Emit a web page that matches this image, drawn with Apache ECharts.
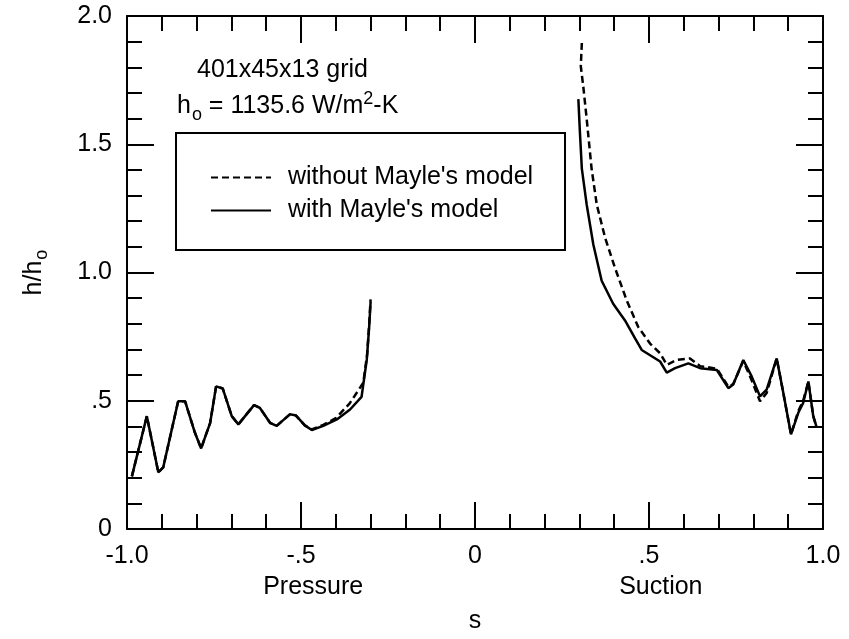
<!DOCTYPE html>
<html>
<head>
<meta charset="utf-8">
<script src="https://cdn.jsdelivr.net/npm/echarts@6/dist/echarts.min.js"></script>
<style>
html,body{margin:0;padding:0;background:#fff;}
#c{width:849px;height:639px;}
</style>
</head>
<body>
<div id="c"></div>
<script>
// ---- data ----
// pressure side, with Mayle's model (solid)
const pWithS = [-0.986, -0.943, -0.910, -0.896, -0.853, -0.833, -0.805, -0.787, -0.761, -0.744, -0.725, -0.699, -0.680, -0.635, -0.618, -0.589, -0.570, -0.532, -0.515, -0.489, -0.469, -0.436, -0.397, -0.359, -0.326, -0.311, -0.304, -0.300];
const pWithH = [0.205, 0.440, 0.221, 0.240, 0.498, 0.498, 0.376, 0.314, 0.414, 0.556, 0.548, 0.440, 0.408, 0.483, 0.472, 0.414, 0.402, 0.447, 0.443, 0.404, 0.386, 0.402, 0.427, 0.466, 0.515, 0.660, 0.790, 0.885];
// pressure side, without Mayle's model (dashed)
const pWithoutS = [-0.986, -0.943, -0.910, -0.896, -0.853, -0.833, -0.805, -0.787, -0.761, -0.744, -0.725, -0.699, -0.680, -0.635, -0.618, -0.589, -0.570, -0.532, -0.515, -0.489, -0.469, -0.436, -0.400, -0.360, -0.321, -0.310, -0.304, -0.300];
const pWithoutH = [0.205, 0.440, 0.221, 0.240, 0.498, 0.498, 0.376, 0.314, 0.414, 0.556, 0.548, 0.440, 0.408, 0.483, 0.472, 0.414, 0.402, 0.447, 0.443, 0.404, 0.388, 0.406, 0.432, 0.490, 0.570, 0.680, 0.800, 0.895];
// suction side, with Mayle's model (solid)
const sWithS = [0.297, 0.301, 0.307, 0.321, 0.340, 0.364, 0.397, 0.431, 0.460, 0.479, 0.532, 0.551, 0.575, 0.613, 0.647, 0.695, 0.728, 0.742, 0.771, 0.795, 0.819, 0.838, 0.867, 0.886, 0.908, 0.929, 0.943, 0.958, 0.972, 0.981];
const sWithH = [1.676, 1.560, 1.405, 1.264, 1.109, 0.968, 0.878, 0.813, 0.743, 0.698, 0.653, 0.610, 0.627, 0.646, 0.627, 0.620, 0.549, 0.563, 0.659, 0.595, 0.517, 0.543, 0.665, 0.530, 0.369, 0.453, 0.491, 0.575, 0.440, 0.400];
// suction side, without Mayle's model (dashed)
const sWithoutS = [0.307, 0.304, 0.311, 0.321, 0.335, 0.350, 0.374, 0.402, 0.436, 0.469, 0.503, 0.532, 0.551, 0.580, 0.618, 0.647, 0.695, 0.728, 0.742, 0.771, 0.795, 0.819, 0.838, 0.867, 0.886, 0.908, 0.929, 0.943, 0.958, 0.972, 0.981];
const sWithoutH = [1.895, 1.804, 1.727, 1.598, 1.405, 1.264, 1.135, 1.019, 0.891, 0.788, 0.723, 0.685, 0.640, 0.659, 0.665, 0.635, 0.625, 0.555, 0.565, 0.655, 0.580, 0.498, 0.530, 0.665, 0.530, 0.369, 0.460, 0.500, 0.575, 0.440, 0.400];

const xTickLabels = {'-1': '-1.0', '-0.5': '-.5', '0': '0', '0.5': '.5', '1': '1.0'};
const yTickLabels = {'0': '0', '0.5': '.5', '1': '1.0', '1.5': '1.5', '2': '2.0'};
const seriesNames = ["without Mayle's model", "with Mayle's model"];
const sideLabels = [{text: 'Pressure', s: -0.465}, {text: 'Suction', s: 0.534}];

// ---- build ----
function pairs(xs, ys) { return xs.map((x, i) => [x, ys[i]]); }
function joined(ax, ay, bx, by) { return pairs(ax, ay).concat([[0, null]], pairs(bx, by)); }

const FONT = 'Liberation Sans, Arial, Helvetica, sans-serif';
const FS = 25;
const black = '#000';

function axisCommon() {
  return {
    axisLine: {show: true, onZero: false, lineStyle: {color: black, width: 2}},
    axisTick: {show: true, inside: true, length: 27, lineStyle: {color: black, width: 2}},
    minorTick: {show: true, splitNumber: 5, length: 15, lineStyle: {color: black, width: 2}},
    splitLine: {show: false},
    minorSplitLine: {show: false}
  };
}

const chart = echarts.init(document.getElementById('c'));
chart.setOption({
  animation: false,
  backgroundColor: '#fff',
  textStyle: {fontFamily: FONT, color: black},
  grid: {left: 127, right: 26, top: 16, bottom: 105, containLabel: false},
  xAxis: [
    Object.assign({
      type: 'value', min: -1, max: 1, interval: 0.5, position: 'bottom',
      axisLabel: {show: true, margin: 15, fontSize: FS, color: black, fontFamily: FONT,
        formatter: v => xTickLabels[String(v)] ?? ''},
      name: 's', nameLocation: 'middle', nameGap: 80,
      nameTextStyle: {fontSize: FS, color: black, fontFamily: FONT}
    }, axisCommon()),
    Object.assign({
      type: 'value', min: -1, max: 1, interval: 0.5, position: 'top',
      axisLabel: {show: false}
    }, axisCommon())
  ],
  yAxis: [
    Object.assign({
      type: 'value', min: 0, max: 2, interval: 0.5, position: 'left',
      axisLabel: {show: true, margin: 15, fontSize: FS, color: black, fontFamily: FONT,
        formatter: v => yTickLabels[String(v)] ?? ''},
      name: '{m|h/h}{sub|o}', nameLocation: 'middle', nameGap: 80, nameRotate: 90,
      nameTextStyle: {fontSize: FS, color: black, fontFamily: FONT,
        rich: {
          m: {fontSize: FS, fontFamily: FONT, color: black, lineHeight: 25, verticalAlign: 'middle'},
          sub: {fontSize: 18, fontFamily: FONT, color: black, lineHeight: 18, padding: [16, 0, 0, 1], verticalAlign: 'middle'}
        }}
    }, axisCommon()),
    Object.assign({
      type: 'value', min: 0, max: 2, interval: 0.5, position: 'right',
      axisLabel: {show: false}
    }, axisCommon())
  ],
  legend: {
    show: true, orient: 'vertical', left: 205, top: 160,
    itemWidth: 60, itemHeight: 14, itemGap: 8,
    data: seriesNames,
    itemStyle: {opacity: 0},
    textStyle: {fontSize: FS, fontFamily: FONT, color: black, lineHeight: 25, padding: [0, 0, 0, 12]},
    selectedMode: false
  },
  series: [
    {
      name: seriesNames[0], type: 'line', showSymbol: false, symbol: 'none',
      data: joined(pWithoutS, pWithoutH, sWithoutS, sWithoutH),
      connectNulls: false,
      lineStyle: {color: black, width: 2.5, type: [7, 4]},
      itemStyle: {color: black}, z: 3
    },
    {
      name: seriesNames[1], type: 'line', showSymbol: false, symbol: 'none',
      data: joined(pWithS, pWithH, sWithS, sWithH),
      connectNulls: false,
      lineStyle: {color: black, width: 2.5, type: 'solid'},
      itemStyle: {color: black}, z: 4
    }
  ]
});

// annotations, legend box and side labels
const y0 = chart.convertToPixel({yAxisIndex: 0}, 0);
const graphics = [
  {type: 'rect', shape: {x: 176, y: 133, width: 389, height: 117},
   style: {fill: 'none', stroke: black, lineWidth: 2}, z: 1},
  {type: 'text', left: 197, top: 58,
   style: {text: '401x45x13 grid', font: FS + 'px ' + FONT, fill: black}},
  {type: 'text', left: 177, top: 88,
   style: {
     text: 'h{sub|o}{m| = 1135.6 W/m}{sup|2}{m|-K}',
     font: FS + 'px ' + FONT, fill: black,
     rich: {
       m: {fontSize: FS, fontFamily: FONT, lineHeight: 25, verticalAlign: 'middle'},
       sub: {fontSize: 18, fontFamily: FONT, lineHeight: 18, padding: [18, 0, 0, 1], verticalAlign: 'middle'},
       sup: {fontSize: 18, fontFamily: FONT, lineHeight: 18, padding: [0, 0, 14, 0], verticalAlign: 'middle'}
     }
   }}
];
sideLabels.forEach(l => {
  graphics.push({type: 'text', x: chart.convertToPixel({xAxisIndex: 0}, l.s), y: y0 + 58,
    style: {text: l.text, font: FS + 'px ' + FONT, fill: black, align: 'center', verticalAlign: 'middle'}});
});
chart.setOption({graphic: graphics});
</script>
</body>
</html>
